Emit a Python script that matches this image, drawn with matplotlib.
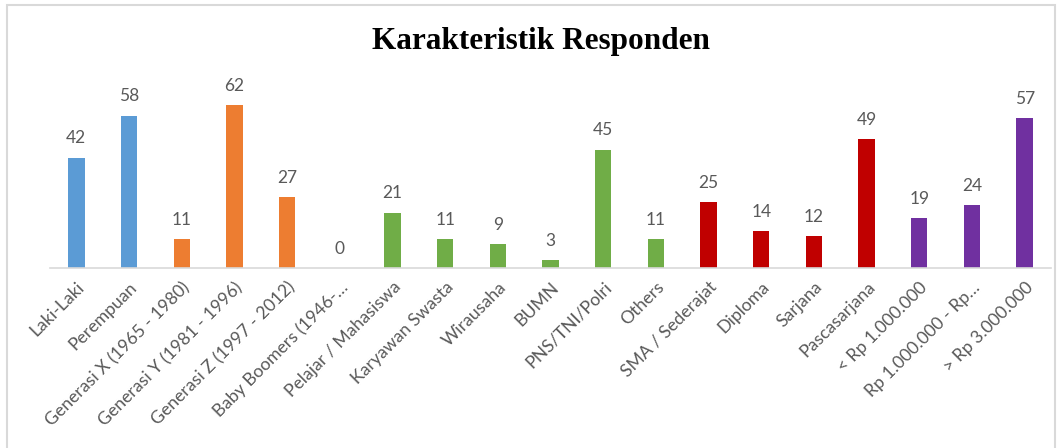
import matplotlib
matplotlib.use("Agg")
import matplotlib.pyplot as plt
from matplotlib.patches import Rectangle

categories = ["Laki-Laki", "Perempuan", "Generasi X (1965 - 1980)", "Generasi Y (1981 - 1996)",
              "Generasi Z (1997 - 2012)", "Baby Boomers (1946-…", "Pelajar / Mahasiswa",
              "Karyawan Swasta", "Wirausaha", "BUMN", "PNS/TNI/Polri", "Others",
              "SMA / Sederajat", "Diploma", "Sarjana", "Pascasarjana", "< Rp 1.000.000",
              "Rp 1.000.000 - Rp…", "> Rp 3.000.000"]
values = [42, 58, 11, 62, 27, 0, 21, 11, 9, 3, 45, 11, 25, 14, 12, 49, 19, 24, 57]
groups = [0, 0, 1, 1, 1, 1, 2, 2, 2, 2, 2, 2, 3, 3, 3, 3, 4, 4, 4]
palette = ["#5B9BD5", "#ED7D31", "#70AD47", "#C00000", "#7030A0"]

W, H = 1062, 448
fig = plt.figure(figsize=(W / 100, H / 100), dpi=100)
ax = fig.add_axes([50 / W, 1 - 268 / H, (1051 - 50) / W, (268 - 84) / H])

x = list(range(len(categories)))
colors = [palette[g] for g in groups]
bars = ax.bar(x, values, width=0.31, color=colors)
for xi, v in zip(x, values):
    ax.text(xi, v + 4.3, str(v), ha="center", va="bottom", fontsize=12.5,
            color="#595959", family="Lato")

ax.set_xlim(-0.5, len(categories) - 0.5)
ax.set_ylim(0, 70)
ax.set_yticks([])
for s in ["top", "right", "left"]:
    ax.spines[s].set_visible(False)
ax.spines["bottom"].set_color("#D9D9D9")
ax.spines["bottom"].set_linewidth(1.2)
ax.set_xticks(x)
ax.set_xticklabels(categories, rotation=45, ha="right", va="top",
                   rotation_mode="anchor", fontsize=12.7, color="#595959", family="Lato")
ax.tick_params(axis="x", length=0, pad=8)

fig.text(541 / W, 1 - 42 / H, "Karakteristik Responden", ha="center", va="center",
         fontsize=22.5, fontweight="bold", family="Liberation Serif", color="black")

fig.patches.append(Rectangle((7 / W, -0.01), (1055 - 7) / W, 1 - 5 / H + 0.01,
                             transform=fig.transFigure, fill=False,
                             edgecolor="#D9D9D9", linewidth=1.5))

fig.savefig("out.png", dpi=100)
